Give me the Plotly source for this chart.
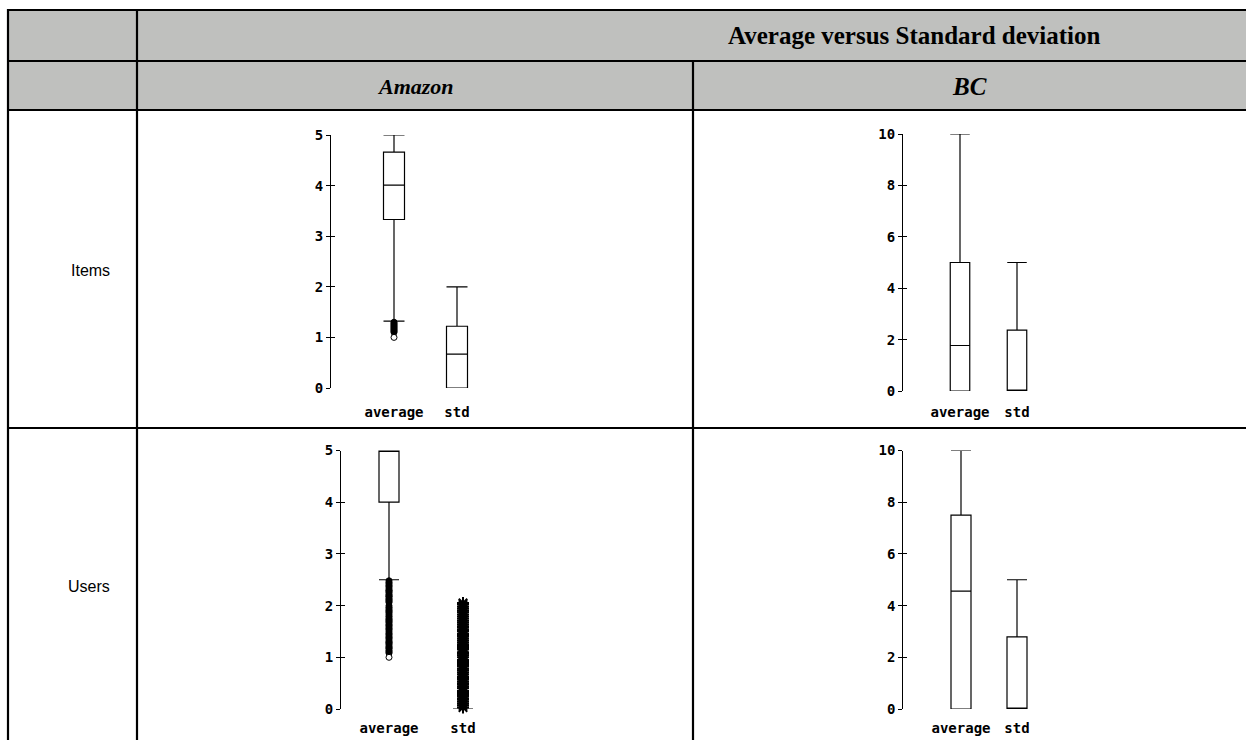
import plotly.graph_objects as go

# ---------------- data ----------------
categories = ["average", "std"]

amazon_items_tickvals = [0, 1, 2, 3, 4, 5]
amazon_items_q1 = [3.33, 0.0]
amazon_items_median = [4.01, 0.67]
amazon_items_q3 = [4.66, 1.22]
amazon_items_lower = [1.32, 0.0]
amazon_items_upper = [5.0, 2.0]
amazon_items_avg_outliers = [1.3, 1.28, 1.26, 1.24, 1.22, 1.2, 1.18, 1.16, 1.14, 1.12, 1.1, 1.0]
amazon_items_std_outliers = []

amazon_users_tickvals = [0, 1, 2, 3, 4, 5]
amazon_users_q1 = [4.0, 0.0]
amazon_users_median = [5.0, 0.0]
amazon_users_q3 = [5.0, 0.0]
amazon_users_lower = [2.5, 0.0]
amazon_users_upper = [5.0, 0.0]
amazon_users_avg_outliers = [2.48, 2.45, 2.43, 2.4, 2.38, 2.36, 2.33, 2.3, 2.29, 2.27, 2.25, 2.22,
                             2.2, 2.18, 2.17, 2.14, 2.12, 2.1, 2.08, 2.06, 2.0, 1.97, 1.95, 1.92,
                             1.9, 1.88, 1.86, 1.83, 1.8, 1.78, 1.75, 1.73, 1.71, 1.69, 1.67, 1.64,
                             1.62, 1.6, 1.57, 1.55, 1.53, 1.5, 1.47, 1.45, 1.43, 1.4, 1.38, 1.36,
                             1.33, 1.3, 1.29, 1.27, 1.25, 1.22, 1.2, 1.18, 1.17, 1.14, 1.12, 1.1,
                             1.08, 1.0]
amazon_users_std_outliers = [0.03, 0.07, 0.1, 0.14, 0.18, 0.21, 0.25, 0.29, 0.33, 0.35, 0.4, 0.43,
                             0.47, 0.5, 0.53, 0.57, 0.6, 0.63, 0.67, 0.71, 0.75, 0.78, 0.82, 0.85,
                             0.89, 0.92, 0.95, 1.0, 1.04, 1.07, 1.1, 1.15, 1.18, 1.22, 1.25, 1.29,
                             1.33, 1.37, 1.41, 1.45, 1.5, 1.53, 1.57, 1.6, 1.64, 1.68, 1.71, 1.75,
                             1.79, 1.83, 1.87, 1.9, 1.94, 1.98, 2.02, 2.05]

bc_items_tickvals = [0, 2, 4, 6, 8, 10]
bc_items_q1 = [0.0, 0.0]
bc_items_median = [1.77, 0.0]
bc_items_q3 = [5.0, 2.37]
bc_items_lower = [0.0, 0.0]
bc_items_upper = [10.0, 5.0]

bc_users_tickvals = [0, 2, 4, 6, 8, 10]
bc_users_q1 = [0.0, 0.0]
bc_users_median = [4.56, 0.0]
bc_users_q3 = [7.5, 2.79]
bc_users_lower = [0.0, 0.0]
bc_users_upper = [10.0, 5.0]

title_text = "Average versus Standard deviation"
dataset_labels = ["Amazon", "BC"]
row_labels = ["Items", "Users"]

# ---------------- layout helpers ----------------
W, H = 1246, 740
def px(x):
    return x / W
def py(y):
    return 1 - y / H

TICKFONT = dict(family="DejaVu Sans Mono", size=14, color="black", weight="bold")
BLACK = "black"
GREY = "#bfc0be"

# panel geometry (pixels): axis x, pixel of 0, pixel of top tick, top value, centers, box width, label gap
panels = [
    dict(ax=331, y0=388, ytop=135, vmax=5, c0=394, c1=457, bw=21, gap=26,
         tick=amazon_items_tickvals, q1=amazon_items_q1, med=amazon_items_median,
         q3=amazon_items_q3, lo=amazon_items_lower, hi=amazon_items_upper,
         out_avg=amazon_items_avg_outliers, out_std=amazon_items_std_outliers),
    dict(ax=341, y0=709, ytop=450.5, vmax=5, c0=389, c1=463, bw=20, gap=21,
         tick=amazon_users_tickvals, q1=amazon_users_q1, med=amazon_users_median,
         q3=amazon_users_q3, lo=amazon_users_lower, hi=amazon_users_upper,
         out_avg=amazon_users_avg_outliers, out_std=amazon_users_std_outliers),
    dict(ax=903, y0=391, ytop=134, vmax=10, c0=960, c1=1017, bw=19.5, gap=23,
         tick=bc_items_tickvals, q1=bc_items_q1, med=bc_items_median,
         q3=bc_items_q3, lo=bc_items_lower, hi=bc_items_upper,
         out_avg=[], out_std=[]),
    dict(ax=903.3, y0=709, ytop=450.5, vmax=10, c0=961, c1=1017, bw=20, gap=21,
         tick=bc_users_tickvals, q1=bc_users_q1, med=bc_users_median,
         q3=bc_users_q3, lo=bc_users_lower, hi=bc_users_upper,
         out_avg=[], out_std=[]),
]

fig = go.Figure()
layout_axes = {}

for i, p in enumerate(panels):
    n = i + 1
    xa = "x" if n == 1 else f"x{n}"
    ya = "y" if n == 1 else f"y{n}"
    yo_n = n + 4
    yo = f"y{yo_n}"
    unit = p["c1"] - p["c0"]
    xleft = -(p["c0"] - p["ax"]) / unit
    xright = 1.6
    dom_x = [px(p["ax"]), px(p["c0"] + xright * unit)]
    dom_y = [py(p["y0"]), py(p["ytop"])]

    fig.add_trace(go.Box(
        x=[0, 1], q1=p["q1"], median=p["med"], q3=p["q3"],
        lowerfence=p["lo"], upperfence=p["hi"],
        width=p["bw"] / unit, whiskerwidth=1, boxpoints=False,
        line=dict(color=BLACK, width=1.2), fillcolor="white",
        xaxis=xa, yaxis=ya, showlegend=False, hoverinfo="skip"))

    if p["out_avg"]:
        vals = p["out_avg"]
        fig.add_trace(go.Scatter(
            x=[0] * len(vals), y=vals, mode="markers", xaxis=xa, yaxis=ya,
            marker=dict(symbol="circle", size=6,
                        color=[BLACK] * (len(vals) - 1) + ["white"],
                        line=dict(color=BLACK, width=1)),
            showlegend=False, hoverinfo="skip", cliponaxis=False))
    if p["out_std"]:
        vals = p["out_std"]
        fig.add_trace(go.Scatter(
            x=[1] * len(vals), y=vals, mode="markers", xaxis=xa, yaxis=ya,
            marker=dict(symbol="asterisk-open", size=10, color=BLACK,
                        line=dict(color=BLACK, width=2)),
            showlegend=False, hoverinfo="skip", cliponaxis=False))

    # invisible trace for overlay axis (inner tick halves)
    fig.add_trace(go.Scatter(x=[None], y=[None], xaxis=xa, yaxis=yo,
                             showlegend=False, hoverinfo="skip"))

    xkey = "xaxis" if n == 1 else f"xaxis{n}"
    ykey = "yaxis" if n == 1 else f"yaxis{n}"
    layout_axes[xkey] = dict(
        domain=dom_x, range=[xleft, xright], anchor=ya, automargin=False,
        tickvals=[0, 1], ticktext=categories, showline=False, zeroline=False,
        showgrid=False, ticks="outside", ticklen=p["gap"] - 15,
        tickcolor="rgba(0,0,0,0)", tickfont=TICKFONT, fixedrange=True)
    layout_axes[ykey] = dict(
        domain=dom_y, range=[0, p["vmax"]], anchor=xa, automargin=False,
        tickvals=p["tick"], showline=True, linecolor=BLACK, linewidth=1.2,
        ticks="outside", ticklen=4, tickwidth=1.2, tickcolor=BLACK,
        showgrid=False, zeroline=False, tickfont=TICKFONT, fixedrange=True)
    layout_axes[f"yaxis{yo_n}"] = dict(
        domain=dom_y, range=[0, p["vmax"]], anchor=xa, overlaying=ya,
        side="left", tickvals=p["tick"], showline=False, showticklabels=False,
        ticks="inside", ticklen=4, tickwidth=1.2, tickcolor=BLACK, automargin=False,
        showgrid=False, zeroline=False, fixedrange=True)

# ---------------- table shapes ----------------
shapes = []
shapes.append(dict(type="rect", xref="paper", yref="paper",
                   x0=px(8), x1=px(W + 5), y0=py(110), y1=py(10),
                   fillcolor=GREY, line=dict(width=0), layer="below"))
LW = 2.2
def hline(y, x0, x1):
    shapes.append(dict(type="line", xref="paper", yref="paper",
                       x0=px(x0), x1=px(x1), y0=py(y), y1=py(y),
                       line=dict(color=BLACK, width=LW)))
def vline(x, y0, y1):
    shapes.append(dict(type="line", xref="paper", yref="paper",
                       x0=px(x), x1=px(x), y0=py(y0), y1=py(y1),
                       line=dict(color=BLACK, width=LW)))
hline(10, 7, W + 5)
hline(61, 7, W + 5)
hline(110, 7, W + 5)
hline(428, 7, W + 5)
vline(8, 9, H + 5)
vline(137, 9, H + 5)
vline(693, 60, H + 5)

def ann(text, x, y, font):
    return dict(text=text, x=px(x), y=py(y), xref="paper", yref="paper",
                xanchor="center", yanchor="middle", showarrow=False, font=font)

SERIF = dict(family="Liberation Serif", size=25, color=BLACK)
SERIF_SMALL = dict(family="Liberation Serif", size=22, color=BLACK)
annotations = [
    ann(f"<b>{title_text}</b>", 914, 36, SERIF),
    ann(f"<b><i>{dataset_labels[0]}</i></b>", 415, 86, SERIF_SMALL),
    ann(f"<b><i>{dataset_labels[1]}</i></b>", 969.5, 86, SERIF),
    ann(row_labels[0], 90, 270, dict(family="Liberation Sans", size=16, color=BLACK)),
    ann(row_labels[1], 89, 586, dict(family="Liberation Sans", size=16, color=BLACK)),
]

fig.update_layout(
    width=W, height=H, margin=dict(l=0, r=0, t=0, b=0, autoexpand=False),
    paper_bgcolor="white", plot_bgcolor="rgba(0,0,0,0)",
    shapes=shapes, annotations=annotations, showlegend=False,
    **layout_axes)

fig.write_html("out.html", config=dict(displayModeBar=False),
               post_script="document.body.style.margin='0';document.body.style.overflow='hidden';")
